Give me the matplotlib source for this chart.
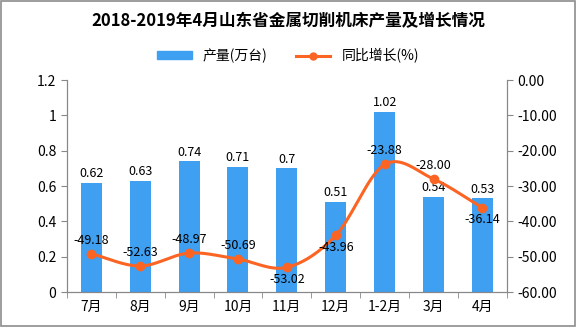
import numpy as np
import matplotlib.pyplot as plt
from matplotlib.patches import Rectangle

plt.rcParams['font.family'] = ['Noto Sans CJK SC', 'DejaVu Sans']

months = ['7月', '8月', '9月', '10月', '11月', '12月', '1-2月', '3月', '4月']
output = [0.62, 0.63, 0.74, 0.71, 0.70, 0.51, 1.02, 0.54, 0.53]
growth = [-49.18, -52.63, -48.97, -50.69, -53.02, -43.96, -23.88, -28.00, -36.14]
growth_below = [False, False, False, False, True, True, False, False, True]

bar_color = '#3f9ff0'
line_color = '#fc6423'


def smooth(x, y, n=20):
    # catmull-rom curve through the points, for drawing only
    x = np.asarray(x, float)
    y = np.asarray(y, float)
    px = np.concatenate([[2 * x[0] - x[1]], x, [2 * x[-1] - x[-2]]])
    py = np.concatenate([[2 * y[0] - y[1]], y, [2 * y[-1] - y[-2]]])
    xs, ys = [], []
    t = np.linspace(0, 1, n)
    for i in range(1, len(px) - 2):
        for p, out in ((px, xs), (py, ys)):
            p0, p1, p2, p3 = p[i - 1], p[i], p[i + 1], p[i + 2]
            out.extend(0.5 * (2 * p1 + (-p0 + p2) * t + (2 * p0 - 5 * p1 + 4 * p2 - p3) * t ** 2
                              + (-p0 + 3 * p1 - 3 * p2 + p3) * t ** 3))
    return np.array(xs), np.array(ys)


fig = plt.figure(figsize=(5.76, 3.27), dpi=100)
fig.patches.append(Rectangle((0.001, 0.002), 0.997, 0.995, transform=fig.transFigure,
                             fill=False, edgecolor='#8c8c8c', linewidth=1.2))
ax = fig.add_axes([0.116, 0.107, 0.764, 0.648])
ax2 = ax.twinx()

x = np.arange(len(months))
ax.bar(x, output, width=0.43, color=bar_color, zorder=2)
for xi, v in zip(x, output):
    ax.text(xi, v + 0.015, f'{v:g}', ha='center', va='bottom', fontsize=9)

sx, sy = smooth(x, growth)
ax2.plot(sx, sy, color=line_color, linewidth=2.2, zorder=3)
ax2.plot(x, growth, 'o', color=line_color, markersize=6, zorder=4)
for xi, v, below in zip(x, growth, growth_below):
    if below:
        ax2.text(xi, v - 1.5, f'{v:.2f}', ha='center', va='top', fontsize=9)
    else:
        ax2.text(xi, v + 2.0, f'{v:.2f}', ha='center', va='bottom', fontsize=9)

ax.set_xlim(-0.5, len(months) - 0.5)
ax.set_ylim(0, 1.2)
ax.set_yticks([0, 0.2, 0.4, 0.6, 0.8, 1.0, 1.2])
ax.set_yticklabels(['0', '0.2', '0.4', '0.6', '0.8', '1', '1.2'])
ax2.set_ylim(-60, 0)
ax2.set_yticks(np.arange(-60, 1, 10))
ax2.set_yticklabels([f'{v:.2f}' for v in np.arange(-60, 1, 10)])

ax.set_xticks(x)
ax.set_xticklabels(months)
ax.set_xticks(np.arange(-0.5, len(months)), minor=True)
ax.tick_params(axis='x', which='major', length=0, labelsize=10, pad=6)
ax.tick_params(axis='x', which='minor', length=4, color='#888888')
ax.tick_params(axis='y', labelsize=10, length=4, color='#888888')
ax2.tick_params(axis='y', labelsize=10, length=4, color='#888888')

for a in (ax, ax2):
    a.spines['top'].set_visible(False)
    for s in ('left', 'right', 'bottom'):
        a.spines[s].set_color('#888888')

fig.text(0.5, 0.935, '2018-2019年4月山东省金属切削机床产量及增长情况', ha='center', va='center',
         fontsize=12, fontweight='bold')

h1 = Rectangle((0, 0), 1, 1, color=bar_color)
h2, = ax.plot([], [], color=line_color, linewidth=2.2, marker='o', markersize=5)
fig.legend([h1, h2], ['产量(万台)', '同比增长(%)'], loc='center', bbox_to_anchor=(0.5, 0.83),
           ncol=2, frameon=False, fontsize=10, handlelength=2.5, handleheight=0.5,
           columnspacing=2.0)

fig.savefig('out.png', dpi=100)
